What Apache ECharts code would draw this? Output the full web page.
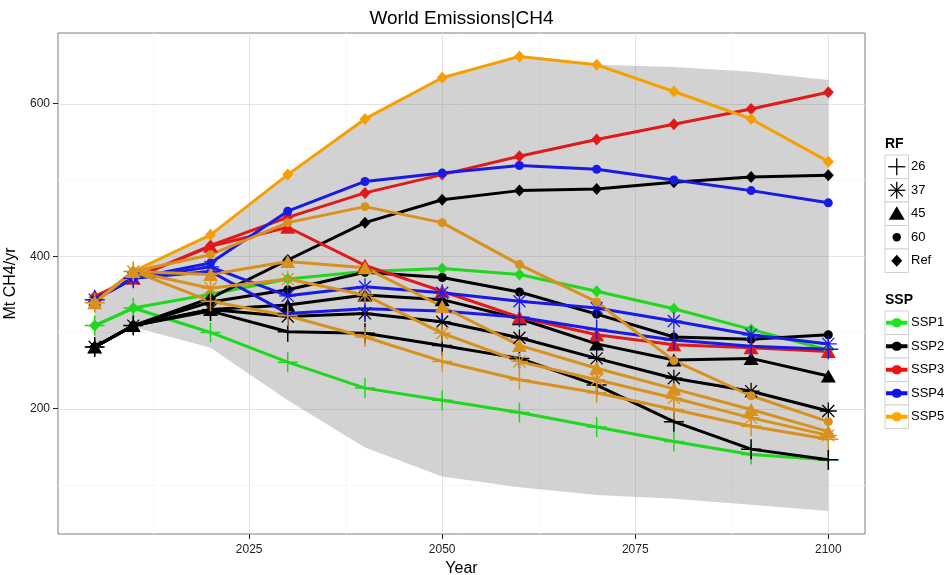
<!DOCTYPE html>
<html><head><meta charset="utf-8">
<script src="https://cdn.jsdelivr.net/npm/echarts@6/dist/echarts.min.js"></script>
<style>html,body{margin:0;padding:0;background:#fff}#c{width:949px;height:575px}</style>
</head><body><div id="c"></div>
<script>
// ---------------- data ----------------
const years = [2005, 2010, 2020, 2030, 2040, 2050, 2060, 2070, 2080, 2090, 2100];

const ribbonLower = [281, 307, 280, 211, 149, 111, 97, 87, 82, 74, 66];
const ribbonUpper = [347, 380, 428, 507, 580, 634, 663, 651, 648, 642, 631];

const SSP1_Ref = [309, 332, 350, 370, 380, 384, 376, 354, 331, 304, 277];
const SSP1_26  = [309, 332, 300, 261, 227, 211, 195, 176, 157, 140, 133];

const SSP2_Ref = [281, 309, 345, 395, 444, 474, 486, 488, 497, 504, 506];
const SSP2_60  = [281, 309, 340, 356, 379, 372, 353, 324, 294, 291, 297];
const SSP2_45  = [281, 309, 330, 336, 349, 343, 318, 285, 264, 266, 243];
const SSP2_37  = [281, 309, 330, 321, 325, 314, 293, 266, 240, 223, 197];
const SSP2_26  = [281, 309, 328, 301, 299, 283, 266, 231, 183, 147, 133];

const SSP3_Ref = [347, 371, 414, 451, 483, 507, 531, 553, 573, 593, 615];
const SSP3_45  = [347, 371, 413, 438, 388, 354, 320, 297, 284, 280, 275];

const SSP4_60  = [343, 371, 391, 459, 498, 509, 519, 514, 500, 486, 470];
const SSP4_37  = [343, 371, 386, 348, 360, 352, 341, 332, 315, 297, 285];
const SSP4_26  = [343, 371, 380, 325, 331, 328, 320, 304, 290, 282, 278];

const SSP5_Ref = [339, 380, 428, 507, 580, 634, 662, 651, 616, 580, 524];
const SSP5_60  = [339, 380, 402, 444, 465, 444, 389, 340, 263, 217, 183];
const SSP5_45  = [339, 380, 376, 393, 385, 334, 283, 253, 226, 199, 170];
const SSP5_37  = [339, 380, 358, 370, 349, 299, 262, 238, 214, 188, 165];
const SSP5_26  = [339, 380, 341, 322, 294, 262, 238, 221, 199, 177, 160];

const xTickLabels = [2025, 2050, 2075, 2100];
const yTickLabels = [200, 400, 600];
const xMinorGrid = [2012.5, 2037.5, 2062.5, 2087.5];
const yMinorGrid = [100, 300, 500];

const rfLevels = ['26', '37', '45', '60', 'Ref'];
const sspNames = ['SSP1', 'SSP2', 'SSP3', 'SSP4', 'SSP5'];

const scenarios = [
  { ssp: 'SSP1', rf: 'Ref', values: SSP1_Ref },
  { ssp: 'SSP1', rf: '26',  values: SSP1_26 },
  { ssp: 'SSP2', rf: 'Ref', values: SSP2_Ref },
  { ssp: 'SSP2', rf: '60',  values: SSP2_60 },
  { ssp: 'SSP2', rf: '45',  values: SSP2_45 },
  { ssp: 'SSP2', rf: '37',  values: SSP2_37 },
  { ssp: 'SSP2', rf: '26',  values: SSP2_26 },
  { ssp: 'SSP3', rf: 'Ref', values: SSP3_Ref },
  { ssp: 'SSP3', rf: '45',  values: SSP3_45 },
  { ssp: 'SSP4', rf: '60',  values: SSP4_60 },
  { ssp: 'SSP4', rf: '37',  values: SSP4_37 },
  { ssp: 'SSP4', rf: '26',  values: SSP4_26 },
  { ssp: 'SSP5', rf: 'Ref', values: SSP5_Ref },
  { ssp: 'SSP5', rf: '60',  values: SSP5_60 },
  { ssp: 'SSP5', rf: '45',  values: SSP5_45 },
  { ssp: 'SSP5', rf: '37',  values: SSP5_37 },
  { ssp: 'SSP5', rf: '26',  values: SSP5_26 }
];

// ---------------- styles ----------------
const FONT = 'Liberation Sans, Arial, Helvetica, sans-serif';
const X_MIN = 2000.25, X_MAX = 2104.75, Y_MIN = 35.7, Y_MAX = 692.7;
const sspColor = { SSP1: '#1ed71e', SSP2: '#000000', SSP3: '#e01a1a', SSP4: '#1a1ae6', SSP5: '#d8911e' };
const sspRefColor = { SSP5: '#f5a000' };
const sspLegendColor = { SSP1: '#1ee61e', SSP2: '#000000', SSP3: '#f01010', SSP4: '#1010f0', SSP5: '#ffa500' };

const PLUS = 'path://M-0.75,-10L0.75,-10L0.75,10L-0.75,10Z M-10,-0.75L10,-0.75L10,0.75L-10,0.75Z';
const STAR = 'path://M-0.75,-10L0.75,-10L0.75,10L-0.75,10Z M-10,-0.75L10,-0.75L10,0.75L-10,0.75Z ' +
             'M7.60,6.54L6.54,7.60L-7.60,-6.54L-6.54,-7.60Z M-6.54,7.60L-7.60,6.54L6.54,-7.60L7.60,-6.54Z';
const rfSymbol = {
  '26':  { symbol: PLUS, size: 20 },
  '37':  { symbol: STAR, size: 17 },
  '45':  { symbol: 'triangle', size: [15, 13] },
  '60':  { symbol: 'circle', size: 9 },
  'Ref': { symbol: 'diamond', size: [11, 12] }
};

function colorOf(s) {
  return (s.rf === 'Ref' && sspRefColor[s.ssp]) ? sspRefColor[s.ssp] : sspColor[s.ssp];
}

// ---------------- series ----------------
const series = [];

// grid lines + semi-transparent ribbon, drawn in one custom layer (grid below ribbon)
series.push({
  type: 'custom', name: 'range', z: 2, silent: true, animation: false,
  data: years.map((y, i) => [y, ribbonLower[i], ribbonUpper[i]]),
  renderItem: function (params, api) {
    if (params.dataIndex !== 0) return null;
    const children = [];
    const hLine = (v, c) => {
      const a = api.coord([X_MIN, v]), b = api.coord([X_MAX, v]);
      const y = Math.round(a[1]) + 0.5;
      children.push({ type: 'line', shape: { x1: a[0], y1: y, x2: b[0], y2: y }, style: { stroke: c, lineWidth: 1 } });
    };
    const vLine = (v, c) => {
      const a = api.coord([v, Y_MIN]), b = api.coord([v, Y_MAX]);
      const x = Math.round(a[0]) + 0.5;
      children.push({ type: 'line', shape: { x1: x, y1: a[1], x2: x, y2: b[1] }, style: { stroke: c, lineWidth: 1 } });
    };
    yMinorGrid.forEach(v => hLine(v, '#f7f7f7'));
    xMinorGrid.forEach(v => vLine(v, '#f7f7f7'));
    yTickLabels.forEach(v => hLine(v, '#e3e3e3'));
    xTickLabels.forEach(v => vLine(v, '#e3e3e3'));
    const pts = [];
    for (let i = 0; i < years.length; i++) pts.push(api.coord([years[i], ribbonUpper[i]]));
    for (let i = years.length - 1; i >= 0; i--) pts.push(api.coord([years[i], ribbonLower[i]]));
    children.push({ type: 'polygon', shape: { points: pts }, style: { fill: 'rgba(127,127,127,0.35)' } });
    return { type: 'group', children: children };
  }
});

// lines
scenarios.forEach(s => {
  series.push({
    type: 'line', name: s.ssp + '-' + s.rf, z: 3, animation: false, silent: true,
    data: years.map((y, i) => [y, s.values[i]]),
    showSymbol: false, symbol: 'none',
    lineStyle: { color: colorOf(s), width: 3 }
  });
});
// points (drawn after all lines, like a separate point layer)
scenarios.forEach(s => {
  const sym = rfSymbol[s.rf];
  series.push({
    type: 'scatter', name: s.ssp + '-' + s.rf + '-pts', z: 4, animation: false, silent: true,
    data: years.map((y, i) => [y, s.values[i]]),
    symbol: sym.symbol, symbolSize: sym.size,
    itemStyle: { color: colorOf(s), opacity: 1 }
  });
});

// ---------------- title & legend (graphic) ----------------
const graphic = [];
graphic.push({
  type: 'text', x: 461.5, y: 19,
  style: { text: 'World Emissions|CH4', font: '19px ' + FONT, fill: '#000', align: 'center', verticalAlign: 'middle' }
});
const LX = 885, KEY = 23.5;
graphic.push({ type: 'text', x: LX, y: 144, style: { text: 'RF', font: 'bold 14px ' + FONT, fill: '#000', align: 'left', verticalAlign: 'middle' } });
rfLevels.forEach((rf, i) => {
  const top = 155 + i * KEY, cx = LX + KEY / 2, cy = top + KEY / 2;
  graphic.push({ type: 'rect', shape: { x: LX, y: top, width: KEY, height: KEY }, style: { fill: '#fff', stroke: '#d0d0d0', lineWidth: 1 } });
  const k = '#000';
  if (rf === '26' || rf === '37') {
    const r = 8.5;
    graphic.push({ type: 'line', shape: { x1: cx - r, y1: cy, x2: cx + r, y2: cy }, style: { stroke: k, lineWidth: 1.3 } });
    graphic.push({ type: 'line', shape: { x1: cx, y1: cy - r, x2: cx, y2: cy + r }, style: { stroke: k, lineWidth: 1.3 } });
    if (rf === '37') {
      const d = r * 0.72;
      graphic.push({ type: 'line', shape: { x1: cx - d, y1: cy - d, x2: cx + d, y2: cy + d }, style: { stroke: k, lineWidth: 1.3 } });
      graphic.push({ type: 'line', shape: { x1: cx - d, y1: cy + d, x2: cx + d, y2: cy - d }, style: { stroke: k, lineWidth: 1.3 } });
    }
  } else if (rf === '45') {
    graphic.push({ type: 'polygon', shape: { points: [[cx, cy - 7.5], [cx + 8, cy + 6], [cx - 8, cy + 6]] }, style: { fill: k } });
  } else if (rf === '60') {
    graphic.push({ type: 'circle', shape: { cx: cx, cy: cy, r: 4.2 }, style: { fill: k } });
  } else {
    graphic.push({ type: 'polygon', shape: { points: [[cx, cy - 6], [cx + 5.5, cy], [cx, cy + 6], [cx - 5.5, cy]] }, style: { fill: k } });
  }
  graphic.push({ type: 'text', x: LX + KEY + 2.5, y: cy, style: { text: rf, font: '13px ' + FONT, fill: '#000', align: 'left', verticalAlign: 'middle' } });
});
graphic.push({ type: 'text', x: LX, y: 300, style: { text: 'SSP', font: 'bold 14px ' + FONT, fill: '#000', align: 'left', verticalAlign: 'middle' } });
sspNames.forEach((ssp, i) => {
  const top = 311 + i * KEY, cx = LX + KEY / 2, cy = top + KEY / 2;
  const c = sspLegendColor[ssp];
  graphic.push({ type: 'rect', shape: { x: LX, y: top, width: KEY, height: KEY }, style: { fill: '#fff', stroke: '#d0d0d0', lineWidth: 1 } });
  graphic.push({ type: 'line', shape: { x1: LX + 1, y1: cy, x2: LX + KEY - 1, y2: cy }, style: { stroke: c, lineWidth: 4 } });
  graphic.push({ type: 'ellipse', shape: { cx: cx, cy: cy, rx: 5.2, ry: 4.5 }, style: { fill: c } });
  graphic.push({ type: 'text', x: LX + KEY + 2.5, y: cy, style: { text: ssp, font: '13px ' + FONT, fill: '#000', align: 'left', verticalAlign: 'middle' } });
});

// ---------------- chart ----------------
const chart = echarts.init(document.getElementById('c'), null, { renderer: 'canvas' });
chart.setOption({
  backgroundColor: '#ffffff',
  animation: false,
  textStyle: { fontFamily: FONT },
  grid: { left: 58, right: 84, top: 33, bottom: 41, show: true, backgroundColor: '#fff', borderColor: '#7f7f7f', borderWidth: 1,
          containLabel: false, outerBoundsMode: 'none' },
  xAxis: {
    type: 'value', min: X_MIN, max: X_MAX,
    name: 'Year', nameLocation: 'middle', nameGap: 24,
    nameTextStyle: { fontSize: 16, color: '#000', fontFamily: FONT },
    axisLine: { show: false },
    axisTick: { show: true, customValues: xTickLabels, length: 5, lineStyle: { color: '#222' } },
    axisLabel: { customValues: xTickLabels, formatter: v => String(v), color: '#222', fontSize: 12, margin: 10, fontFamily: FONT },
    splitLine: { show: false }, minorSplitLine: { show: false }
  },
  yAxis: {
    type: 'value', min: Y_MIN, max: Y_MAX,
    name: 'Mt CH4/yr', nameLocation: 'middle', nameGap: 25, nameRotate: 90,
    nameTextStyle: { fontSize: 16, color: '#000', fontFamily: FONT },
    axisLine: { show: false },
    axisTick: { show: true, customValues: yTickLabels, length: 5, lineStyle: { color: '#222' } },
    axisLabel: { customValues: yTickLabels, formatter: v => String(v), color: '#222', fontSize: 12, margin: 8, fontFamily: FONT },
    splitLine: { show: false }
  },
  graphic: graphic,
  series: series
});
</script></body></html>
